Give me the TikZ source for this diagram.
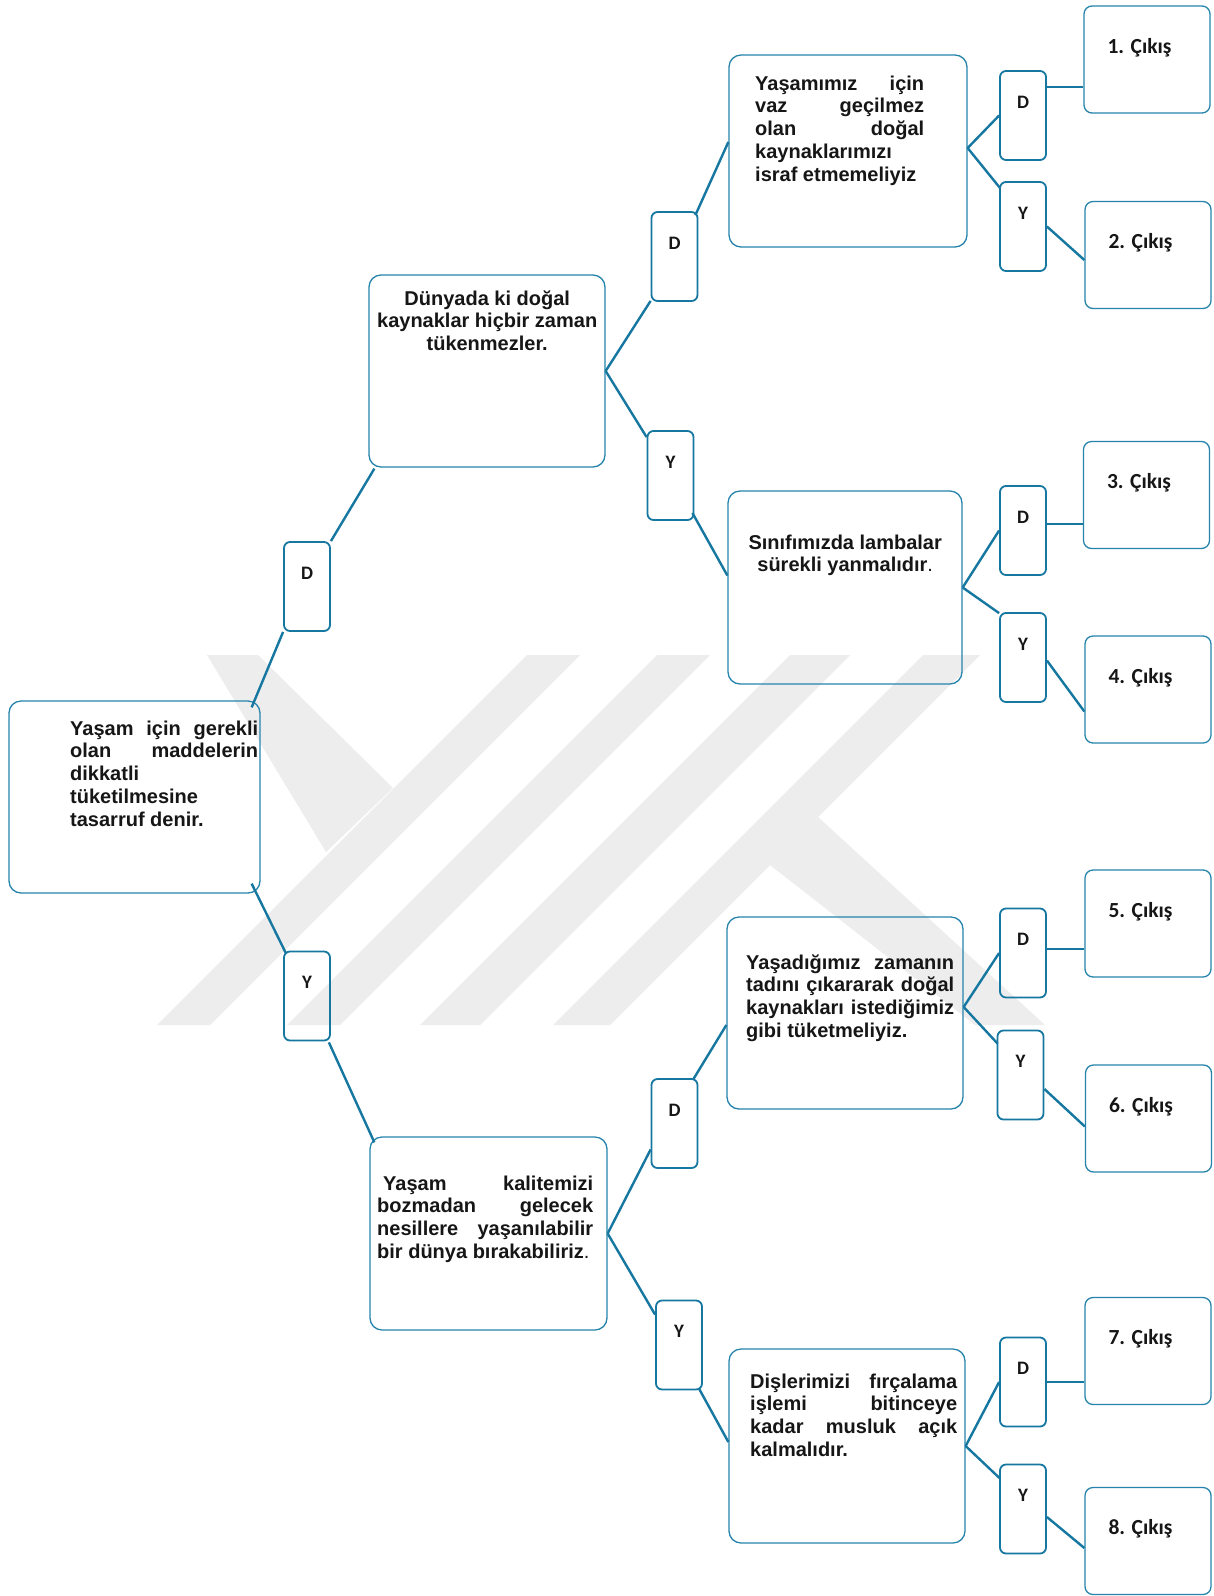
\documentclass[tikz,border=0pt]{standalone}
\usepackage{fontspec}
\setmainfont{Liberation Sans}
\newfontfamily\calfont{Carlito}
\usetikzlibrary{calc}

\definecolor{tealline}{RGB}{22,119,160}
\definecolor{boxline}{RGB}{38,132,172}
\definecolor{wmgray}{RGB}{237,237,237}
\definecolor{ink}{RGB}{22,22,22}

% a justified line that fills the paragraph width
\newcommand{\jl}[1]{\makebox[\linewidth][s]{#1}}
\newcommand{\cikis}[1]{#1. Çıkış\hspace*{15pt}}

\tikzset{
  bigbox/.style={draw=boxline, line width=1.3pt, rounded corners=12pt, inner sep=0pt},
  ybox/.style={draw=tealline, line width=1.8pt, rounded corners=6pt, inner sep=0pt,
    minimum width=46pt, text height=37pt, text depth=52pt,
    font=\calfont\bfseries\fontsize{19}{19}\selectfont, text=ink},
  exitbox/.style={draw=boxline, line width=1.3pt, rounded corners=8pt, inner sep=0pt,
    minimum width=126pt, text height=47pt, text depth=60pt,
    font=\calfont\bfseries\fontsize{21.5}{22}\selectfont, text=ink},
  para/.style={inner sep=0pt, anchor=base west, text=ink,
    font=\bfseries\fontsize{20}{22.8}\selectfont},
  link/.style={draw=tealline, line width=2.4pt},
}

\begin{document}
\begin{tikzpicture}[x=1pt, y=-1pt]
\useasboundingbox (0,0) rectangle (1214,1596);
\fill[white] (0,0) rectangle (1214,1596);

% faint emblem behind the tree
\begin{scope}[fill=wmgray]
  \fill (207,655) -- (258,655) -- (393,788) -- (326,852) -- cycle;
  \fill (527,655) -- (580,655) -- (210,1025) -- (157,1025) -- cycle;
  \fill (657,655) -- (710,655) -- (340,1025) -- (287,1025) -- cycle;
  \fill (790,655) -- (850,655) -- (480,1025) -- (420,1025) -- cycle;
  \fill (923,655) -- (980,655) -- (610,1025) -- (553,1025) -- cycle;
  \fill (818,817) -- (1045,1025) -- (975,1025) -- (770,865) -- cycle;
\end{scope}

% statement boxes
\node[bigbox, minimum width=251pt, minimum height=192pt] (root) at (134.5,797) {};
\node[bigbox, minimum width=236pt, minimum height=192pt] (A) at (487,371) {};
\node[bigbox, minimum width=238pt, minimum height=192pt] (B) at (848,151) {};
\node[bigbox, minimum width=234pt, minimum height=193pt] (C) at (845,587.5) {};
\node[bigbox, minimum width=237pt, minimum height=193pt] (E) at (488.5,1233.5) {};
\node[bigbox, minimum width=236pt, minimum height=192pt] (F) at (845,1013) {};
\node[bigbox, minimum width=236pt, minimum height=194pt] (G) at (847,1446) {};

% statement texts
\node[para] (troot) at (70,735) {\parbox[t]{188pt}{%
  \jl{Yaşam için gerekli}\\
  \jl{olan maddelerin}\\
  dikkatli\\
  tüketilmesine\\
  tasarruf denir.}};
\node[para] (tA) at (369,305) {\parbox[t]{236pt}{\centering
  Dünyada ki doğal\\
  kaynaklar hiçbir zaman\\
  tükenmezler.}};
\node[para] (tB) at (755,90) {\parbox[t]{169pt}{%
  \jl{Yaşamımız için}\\
  \jl{vaz geçilmez}\\
  \jl{olan doğal}\\
  kaynaklarımızı\\
  israf etmemeliyiz}};
\node[para] (tC) at (728,549) {\parbox[t]{234pt}{\centering
  Sınıfımızda lambalar\\
  sürekli yanmalıdır{\mdseries.}}};
\node[para] (tE) at (377,1190) {\parbox[t]{216pt}{%
  \jl{\hspace*{6pt}Yaşam kalitemizi}\\
  \jl{bozmadan gelecek}\\
  \jl{nesillere yaşanılabilir}\\
  bir dünya bırakabiliriz{\mdseries.}}};
\node[para] (tF) at (746,969) {\parbox[t]{208pt}{%
  \jl{Yaşadığımız zamanın}\\
  \jl{tadını çıkararak doğal}\\
  \jl{kaynakları istediğimiz}\\
  gibi tüketmeliyiz.}};
\node[para] (tG) at (750,1388) {\parbox[t]{207pt}{%
  \jl{Dişlerimizi fırçalama}\\
  \jl{işlemi bitinceye}\\
  \jl{kadar musluk açık}\\
  kalmalıdır.}};

% answer boxes (D = doğru, Y = yanlış)
\node[ybox] (Dr) at (307,586.5) {D};
\node[ybox] (Yr) at (307,996) {Y};
\node[ybox] (DA) at (674.5,256.5) {D};
\node[ybox] (YA) at (670.5,475.5) {Y};
\node[ybox] (D1) at (1023,115.5) {D};
\node[ybox] (Y1) at (1023,226.5) {Y};
\node[ybox] (D2) at (1023,530.5) {D};
\node[ybox] (Y2) at (1023,657.5) {Y};
\node[ybox] (DE) at (674.5,1123.5) {D};
\node[ybox] (YE) at (679,1345) {Y};
\node[ybox] (DF) at (1023,953) {D};
\node[ybox] (YF) at (1020.5,1075) {Y};
\node[ybox] (DG) at (1023,1382) {D};
\node[ybox] (YG) at (1023,1509) {Y};

% exits
\node[exitbox] (X1) at (1147,59.5) {\cikis{1}};
\node[exitbox] (X2) at (1148,255) {\cikis{2}};
\node[exitbox] (X3) at (1146.5,495) {\cikis{3}};
\node[exitbox] (X4) at (1148,689.5) {\cikis{4}};
\node[exitbox] (X5) at (1148,923.5) {\cikis{5}};
\node[exitbox] (X6) at (1148.5,1118.5) {\cikis{6}};
\node[exitbox] (X7) at (1148,1351) {\cikis{7}};
\node[exitbox] (X8) at (1148,1541) {\cikis{8}};

% connectors
\draw[link] ($(root.north east)+(-9,7)$) -- (Dr.south west);
\draw[link] (Dr.north east) -- ($(A.south west)+(6,1)$);
\draw[link] ($(root.south east)+(-9,-10)$) -- ($(Yr.north west)+(3,3)$);
\draw[link] ($(Yr.south east)+(-2,1)$) -- ($(E.north west)+(5,6)$);

\draw[link] (A.east) -- ($(DA.south west)+(0,-1)$);
\draw[link] (A.east) -- ($(YA.north west)+(0,7)$);
\draw[link] ($(DA.north east)+(-3,4)$) -- ($(B.west)+(0,-9)$);
\draw[link] ($(YA.south east)+(-2,-8)$) -- ($(C.west)+(0,-12)$);

\draw[link] ($(B.east)+(0,-3)$) -- (D1.west);
\draw[link] ($(B.east)+(0,-3)$) -- ($(Y1.north west)+(1,7)$);
\draw[link] ($(D1.east)+(0,-28.5)$) coordinate (p1) -- (p1 -| X1.west);
\draw[link] (Y1.east) -- ($(X2.west)+(0,5)$);

\draw[link] (C.east) -- (D2.west);
\draw[link] (C.east) -- ($(Y2.north west)+(0,1)$);
\draw[link] ($(D2.east)+(0,-6.5)$) coordinate (p3) -- (p3 -| X3.west);
\draw[link] ($(Y2.east)+(0,3)$) -- ($(X4.west)+(0,22)$);

\draw[link] (E.east) -- ($(DE.west)+(0,26)$);
\draw[link] (E.east) -- ($(YE.north west)+(0,15)$);
\draw[link] ($(DE.north east)+(-5,1)$) -- ($(F.west)+(0,12)$);
\draw[link] ($(YE.south east)+(-4,-2)$) -- ($(G.west)+(0,-4)$);

\draw[link] ($(F.east)+(0,-6)$) -- (DF.west);
\draw[link] ($(F.east)+(0,-6)$) -- ($(YF.north west)+(1,14)$);
\draw[link] ($(DF.east)+(0,-4)$) coordinate (p5) -- (p5 -| X5.west);
\draw[link] ($(YF.east)+(0,14)$) -- ($(X6.west)+(0,8)$);

\draw[link] (G.east) -- (DG.west);
\draw[link] (G.east) -- ($(YG.north west)+(1,15)$);
\draw[link] (DG.east) -- (DG.east -| X7.west);
\draw[link] ($(YG.east)+(0,8)$) -- ($(X8.west)+(0,7)$);
\end{tikzpicture}
\end{document}
